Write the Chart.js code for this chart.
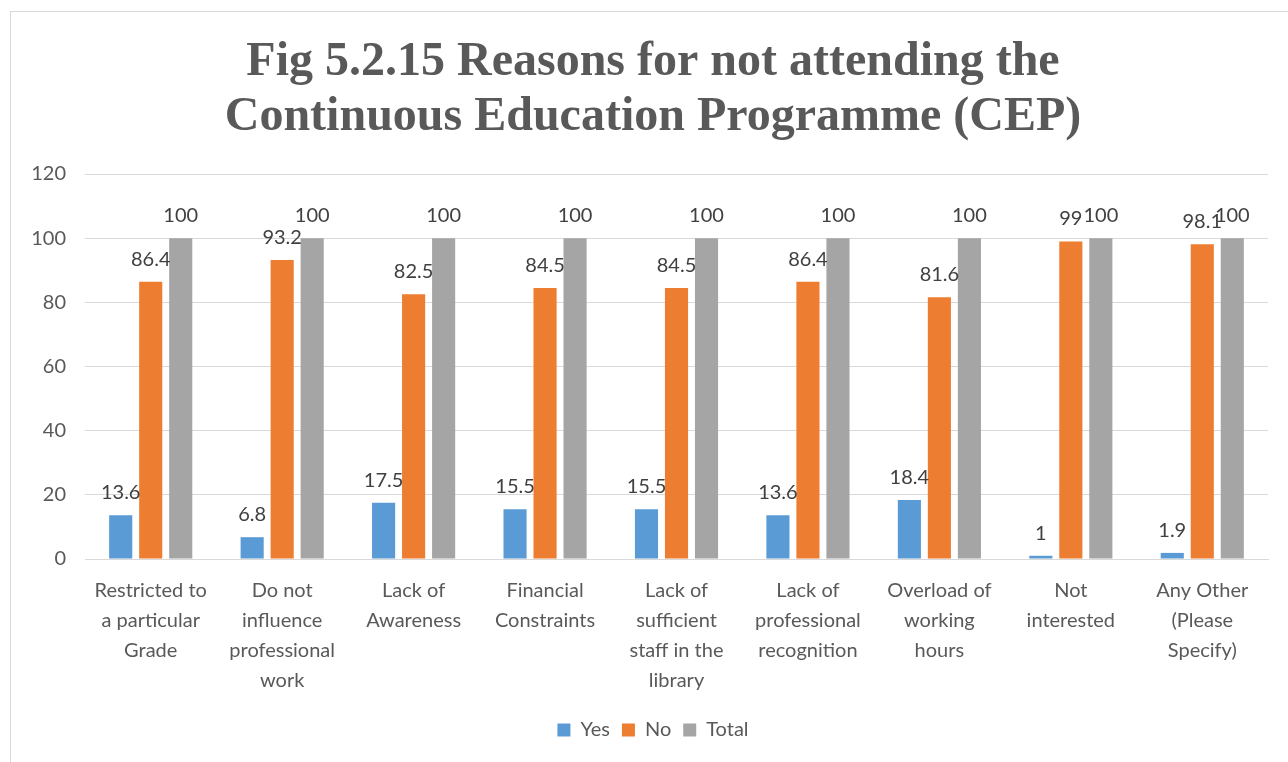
<!doctype html>
<html lang="en">
<head>
    <meta charset="UTF-8">
    <script src="https://cdn.jsdelivr.net/npm/chart.js"></script>
    <title>Reasons for not attending the CEP</title>
    <style>
        html, body { margin: 0; padding: 0; background: #fff; overflow: hidden; }
        .frame { position: absolute; left: 10px; top: 11px; width: 1400px; height: 800px;
                 border-left: 1px solid #d9d9d9; border-top: 1px solid #d9d9d9; }
        .wrap { position: absolute; left: 0; top: 0; width: 1306px; height: 762px; }
    </style>
</head>
<body>
    <div class="frame"></div>
    <div class="wrap"><canvas id="chart"></canvas></div>

    <script>
        const reasons = [
            ['Restricted to', 'a particular', 'Grade'],
            ['Do not', 'influence', 'professional', 'work'],
            ['Lack of', 'Awareness'],
            ['Financial', 'Constraints'],
            ['Lack of', 'sufficient', 'staff in the', 'library'],
            ['Lack of', 'professional', 'recognition'],
            ['Overload of', 'working', 'hours'],
            ['Not', 'interested'],
            ['Any Other', '(Please', 'Specify)']
        ];
        const yes = [13.6, 6.8, 17.5, 15.5, 15.5, 13.6, 18.4, 1, 1.9];
        const no = [86.4, 93.2, 82.5, 84.5, 84.5, 86.4, 81.6, 99, 98.1];
        const total = [100, 100, 100, 100, 100, 100, 100, 100, 100];
        const yTicks = [0, 20, 40, 60, 80, 100, 120];

        const textGrey = '#595959';
        const sans = 'Lato, "Liberation Sans", sans-serif';

        // value written above each bar
        const barValues = {
            id: 'barValues',
            afterDatasetsDraw(chart) {
                const ctx = chart.ctx;
                ctx.save();
                ctx.font = '20px ' + sans;
                ctx.fillStyle = '#404040';
                ctx.textAlign = 'center';
                ctx.textBaseline = 'alphabetic';
                chart.data.datasets.forEach((ds, i) => {
                    chart.getDatasetMeta(i).data.forEach((bar, j) => {
                        ctx.fillText(String(ds.data[j]), bar.x, bar.y - 16);
                    });
                });
                ctx.restore();
            }
        };

        new Chart(document.getElementById('chart').getContext('2d'), {
            type: 'bar',
            data: {
                labels: reasons,
                datasets: [
                    { label: 'Yes', data: yes, backgroundColor: '#5b9bd5' },
                    { label: 'No', data: no, backgroundColor: '#ed7d31' },
                    { label: 'Total', data: total, backgroundColor: '#a5a5a5' }
                ]
            },
            options: {
                responsive: true,
                maintainAspectRatio: false,
                animation: false,
                layout: { padding: { left: 0, right: 0, top: 0, bottom: 12 } },
                datasets: {
                    bar: { categoryPercentage: 0.685, barPercentage: 0.77 }
                },
                scales: {
                    x: {
                        grid: { display: false },
                        border: { color: '#d9d9d9' },
                        ticks: {
                            color: textGrey,
                            font: { family: sans, size: 20, lineHeight: 1.5 },
                            padding: 9,
                            maxRotation: 0,
                            autoSkip: false
                        },
                        afterFit(scale) { scale.height = 149; }
                    },
                    y: {
                        min: 0,
                        max: 120,
                        afterBuildTicks(scale) { scale.ticks = yTicks.map(v => ({ value: v })); },
                        grid: { color: '#d9d9d9', drawTicks: false },
                        border: { display: false },
                        ticks: {
                            color: textGrey,
                            font: { family: sans, size: 20 },
                            padding: 19
                        },
                        afterFit(scale) { scale.width = 85; }
                    },
                    // empty strip on the right so the plot stops short of the edge
                    gutter: {
                        type: 'linear',
                        position: 'right',
                        grid: { display: false },
                        border: { display: false },
                        ticks: { display: false },
                        afterFit(scale) { scale.width = 38; }
                    }
                },
                plugins: {
                    title: {
                        display: true,
                        text: ['Fig 5.2.15 Reasons for not attending the', 'Continuous Education Programme (CEP)'],
                        color: textGrey,
                        font: { family: '"Liberation Serif", "Times New Roman", serif', size: 48, weight: 'bold', lineHeight: 1.146 },
                        padding: { top: 35, bottom: 29 }
                    },
                    legend: {
                        position: 'bottom',
                        labels: {
                            color: textGrey,
                            font: { family: sans, size: 20 },
                            boxWidth: 13,
                            boxHeight: 13,
                            padding: 12
                        }
                    },
                    tooltip: { enabled: false }
                }
            },
            plugins: [barValues]
        });
    </script>
</body>
</html>
